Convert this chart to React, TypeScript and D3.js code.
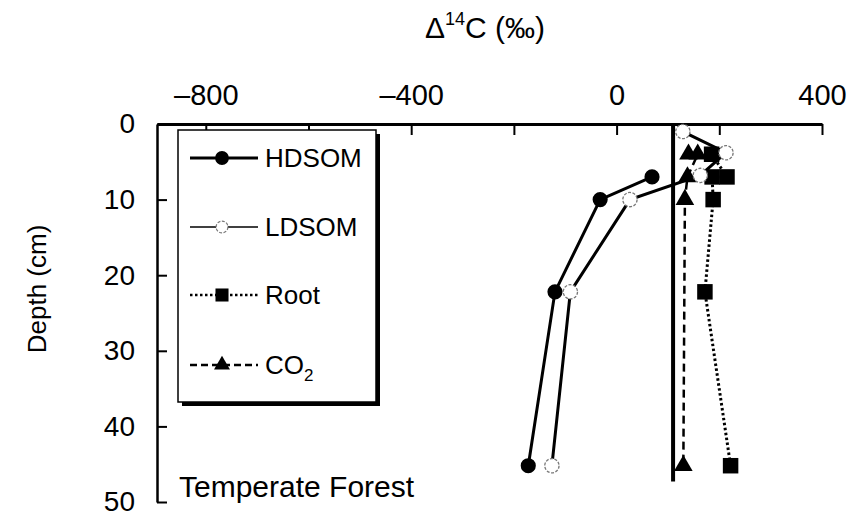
import React, { useEffect, useRef } from 'react';
import * as d3 from 'd3';

const width = 855;
const height = 516;

const deltaTicks = [-800, -600, -400, -200, 0, 200, 400];
const deltaLabels = [-800, -400, 0, 400];
const depthTicks = [0, 10, 20, 30, 40, 50];

// points are [delta 14C (permil), depth (cm)]
const hdsom: [number, number][] = [[69, 7], [-32, 10], [-120, 22.2], [-172, 45.2]];
const ldsom: [number, number][] = [[129, 1], [213, 3.8], [163, 6.8], [26, 10], [-90, 22.2], [-126, 45.2]];
const root: [number, number][] = [[185, 4], [215, 7], [186, 7], [188, 10], [172, 22.2], [222, 45.2]];
const co2: [number, number][] = [[140, 4], [158, 4], [138, 7], [133, 10], [130, 45.2]];
const atmosphere = 110;
const atmosphereDepth = 47.3;

const FONT = 'Liberation Sans, Arial, Helvetica, sans-serif';

export default function App() {
  const ref = useRef<SVGSVGElement>(null);

  useEffect(() => {
    const svg = d3.select(ref.current);
    svg.selectAll('*').remove();

    const x = d3.scaleLinear().domain([-895, 400]).range([157, 822]);
    const y = d3.scaleLinear().domain([0, 50]).range([124, 502]);
    const fmt = (d: number) => (d < 0 ? '\u2013' + Math.abs(d) : String(d));

    // top axis
    const top = svg.append('g')
      .attr('transform', `translate(0,${y(0)})`)
      .call(d3.axisTop(x).tickValues(deltaTicks).tickSize(-11).tickSizeOuter(0).tickPadding(19)
        .tickFormat((d: any) => (deltaLabels.includes(d) ? fmt(d) : '')));
    top.select('.domain').attr('stroke-width', 3);
    top.selectAll('.tick line').attr('stroke-width', 2);
    top.attr('font-size', 29).attr('font-family', FONT);
    top.selectAll('.tick text').attr('fill', '#000');

    // left axis
    const left = svg.append('g')
      .attr('transform', `translate(${x.range()[0]},0)`)
      .call(d3.axisLeft(y).tickValues(depthTicks).tickSize(-10).tickSizeOuter(0).tickPadding(22));
    left.select('.domain').attr('stroke-width', 2.5);
    left.selectAll('.tick line').attr('stroke-width', 2);
    left.attr('font-size', 28).attr('font-family', FONT);
    left.selectAll('.tick text').attr('fill', '#000');

    // titles
    const title = svg.append('text')
      .attr('transform', 'translate(425,38)')
      .attr('font-family', FONT).attr('font-size', 30);
    title.append('tspan').text('\u0394');
    title.append('tspan').attr('dy', -13).attr('font-size', 18).text('14');
    title.append('tspan').attr('dy', 13).text('C (\u2030)');

    svg.append('text')
      .attr('transform', 'translate(46,289) rotate(-90)')
      .attr('text-anchor', 'middle')
      .attr('font-family', FONT).attr('font-size', 26)
      .text('Depth (cm)');

    svg.append('text')
      .attr('transform', 'translate(179,497)')
      .attr('font-family', FONT).attr('font-size', 30)
      .text('Temperate Forest');

    // atmosphere reference line
    svg.append('line')
      .attr('x1', x(atmosphere)).attr('x2', x(atmosphere))
      .attr('y1', y(0)).attr('y2', y(atmosphereDepth))
      .attr('stroke', '#000').attr('stroke-width', 4);

    const line = d3.line<[number, number]>().x(d => x(d[0])).y(d => y(d[1]));

    const series = [
      { data: co2, dash: '8,5', width: 2.5, sym: d3.symbolTriangle, size: 150, fill: '#000', stroke: 'none' },
      { data: root, dash: '2.5,2.5', width: 3, sym: d3.symbolSquare, size: 240, fill: '#000', stroke: 'none' },
      { data: ldsom, dash: null, width: 3, sym: d3.symbolCircle, size: 160, fill: '#fff', stroke: '#777' },
      { data: hdsom, dash: null, width: 3, sym: d3.symbolCircle, size: 180, fill: '#000', stroke: 'none' },
    ];

    series.forEach(s => {
      svg.append('path')
        .attr('d', line(s.data))
        .attr('fill', 'none')
        .attr('stroke', '#000')
        .attr('stroke-width', s.width)
        .attr('stroke-dasharray', s.dash);
    });
    series.forEach(s => {
      svg.append('g').selectAll('path').data(s.data).enter().append('path')
        .attr('transform', d => `translate(${x(d[0])},${y(d[1])})`)
        .attr('d', d3.symbol().type(s.sym).size(s.size)())
        .attr('fill', s.fill)
        .attr('stroke', s.stroke)
        .attr('stroke-width', 1.3)
        .attr('stroke-dasharray', s.stroke === 'none' ? null : '3,1.5');
    });

    // legend
    const lg = svg.append('g');
    lg.append('rect').attr('x', 182).attr('y', 134).attr('width', 198).attr('height', 272).attr('fill', '#000');
    lg.append('rect').attr('x', 178).attr('y', 130).attr('width', 198).attr('height', 272)
      .attr('fill', '#fff').attr('stroke', '#000').attr('stroke-width', 1.5);

    const items = [
      { label: 'HDSOM', y: 158, dash: null, width: 3, sym: d3.symbolCircle, size: 150, fill: '#000', stroke: 'none' },
      { label: 'LDSOM', y: 227, dash: null, width: 1.6, sym: d3.symbolCircle, size: 110, fill: '#fff', stroke: '#777' },
      { label: 'Root', y: 295, dash: '2.5,2.5', width: 2.5, sym: d3.symbolSquare, size: 170, fill: '#000', stroke: 'none' },
      { label: 'CO2', y: 365, dash: '7,4', width: 2.5, sym: d3.symbolTriangle, size: 110, fill: '#000', stroke: 'none' },
    ];
    items.forEach(it => {
      lg.append('line').attr('x1', 190).attr('x2', 258).attr('y1', it.y).attr('y2', it.y)
        .attr('stroke', '#000').attr('stroke-width', it.width).attr('stroke-dasharray', it.dash);
      lg.append('path').attr('transform', `translate(222,${it.y})`)
        .attr('d', d3.symbol().type(it.sym).size(it.size)())
        .attr('fill', it.fill).attr('stroke', it.stroke).attr('stroke-width', 1.2)
        .attr('stroke-dasharray', it.stroke === 'none' ? null : '3,1.5');
      const t = lg.append('text')
        .attr('transform', `translate(265,${it.y + 9})`)
        .attr('font-family', FONT).attr('font-size', 26);
      if (it.label === 'CO2') {
        t.append('tspan').text('CO');
        t.append('tspan').attr('dy', 7).attr('font-size', 17).text('2');
      } else {
        t.text(it.label);
      }
    });
  }, []);

  return (
    <svg ref={ref} width={width} height={height}
      style={{ position: 'absolute', left: 0, top: 0, background: '#fff' }} />
  );
}
